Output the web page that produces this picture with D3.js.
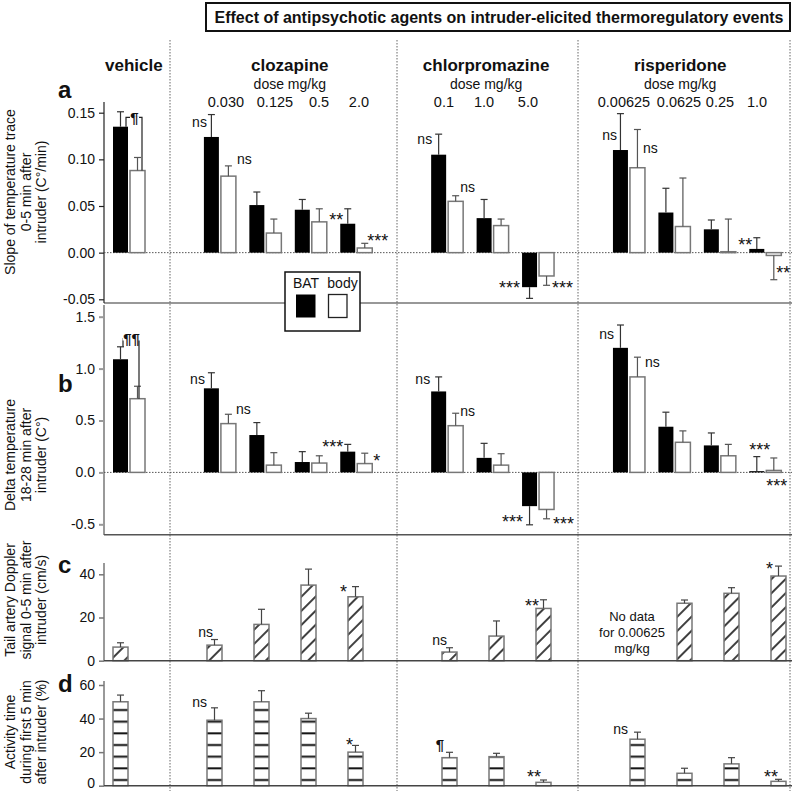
<!DOCTYPE html>
<html><head><meta charset="utf-8">
<script src="https://cdn.jsdelivr.net/npm/d3@7"></script>
<style>
body{margin:0;background:#fff}
svg{display:block}
text{font-family:"Liberation Sans",Arial,sans-serif;fill:#111}
</style>
</head><body>
<svg id="chart" width="798" height="791"></svg>
<script>
// ---------------- DATA ----------------
const title = "Effect of antipsychotic agents on intruder-elicited thermoregulatory events";
const drugs = ["vehicle", "clozapine", "chlorpromazine", "risperidone"];
const clozapineDoses = ["0.030", "0.125", "0.5", "2.0"];
const chlorpromazineDoses = ["0.1", "1.0", "5.0"];
const risperidoneDoses = ["0.00625", "0.0625", "0.25", "1.0"];
const conditions = ["vehicle",
  "clozapine 0.030", "clozapine 0.125", "clozapine 0.5", "clozapine 2.0",
  "chlorpromazine 0.1", "chlorpromazine 1.0", "chlorpromazine 5.0",
  "risperidone 0.00625", "risperidone 0.0625", "risperidone 0.25", "risperidone 1.0"];
// category axis, gaps separate the drugs
const xCategories = ["vehicle", "gap1",
  "clozapine 0.030", "clozapine 0.125", "clozapine 0.5", "clozapine 2.0", "gap2",
  "chlorpromazine 0.1", "chlorpromazine 1.0", "chlorpromazine 5.0", "gap3",
  "risperidone 0.00625", "risperidone 0.0625", "risperidone 0.25", "risperidone 1.0"];

// panel a: slope of temperature trace 0-5 min (C°/min)
const slopeBAT     = [0.135, 0.124, 0.051, 0.046, 0.031, 0.105, 0.037, -0.037, 0.110, 0.043, 0.025, 0.004];
const slopeBATerr  = [0.016, 0.024, 0.014, 0.011, 0.016, 0.022, 0.020, 0.012, 0.039, 0.026, 0.010, 0.012];
const slopeBody    = [0.088, 0.082, 0.021, 0.033, 0.005, 0.055, 0.029, -0.025, 0.091, 0.028, 0.001, -0.003];
const slopeBodyErr = [0.014, 0.011, 0.015, 0.014, 0.005, 0.006, 0.007, 0.010, 0.041, 0.052, 0.035, 0.026];
const slopeBATsig  = ["", "ns", "", "", "**", "ns", "", "***", "ns", "", "", "**"];
const slopeBodySig = ["", "ns", "", "", "***", "ns", "", "***", "ns", "", "", "**"];
const slopeVehicleSig = "¶";

// panel b: delta temperature 18-28 min (C°)
const deltaBAT     = [1.09, 0.81, 0.36, 0.10, 0.20, 0.78, 0.14, -0.325, 1.20, 0.44, 0.26, 0.012];
const deltaBATerr  = [0.12, 0.15, 0.12, 0.10, 0.07, 0.14, 0.14, 0.18, 0.22, 0.14, 0.12, 0.14];
const deltaBody    = [0.71, 0.47, 0.07, 0.09, 0.085, 0.45, 0.07, -0.357, 0.92, 0.29, 0.16, 0.019];
const deltaBodyErr = [0.12, 0.09, 0.12, 0.07, 0.10, 0.12, 0.11, 0.09, 0.19, 0.11, 0.11, 0.12];
const deltaBATsig  = ["", "ns", "", "", "***", "ns", "", "***", "ns", "", "", "***"];
const deltaBodySig = ["", "ns", "", "", "*", "ns", "", "***", "ns", "", "", "***"];
const deltaVehicleSig = "¶¶";

// panel c: tail artery Doppler signal (cm/s); null = no data
const doppler    = [6.3, 7.2, 16.8, 35.0, 29.6, 4.0, 11.4, 24.2, null, 26.6, 31.2, 39.2];
const dopplerErr = [2.0, 2.6, 7.0, 7.4, 4.7, 2.0, 7.0, 4.0, null, 1.5, 2.6, 4.6];
const dopplerSig = ["", "ns", "", "", "*", "ns", "", "**", "", "", "", "*"];
const noDataText = ["No data", "for 0.00625", "mg/kg"];

// panel d: activity time (%)
const activity    = [50, 39, 50, 40, 20, 16.7, 17.3, 2.0, 27.7, 7.4, 13.0, 2.6];
const activityErr = [4.0, 7.4, 6.6, 3.2, 4.0, 3.2, 2.0, 1.4, 4.2, 3.0, 3.7, 1.2];
const activitySig = ["", "ns", "", "", "*", "¶", "", "**", "ns", "", "", "**"];

const ticksA = [-0.05, 0.00, 0.05, 0.10, 0.15];
const ticksB = [-0.5, 0.0, 0.5, 1.0, 1.5];
const ticksC = [0, 20, 40];
const ticksD = [0, 20, 40, 60];

const legendLabels = ["BAT", "body"];
const panelLetters = ["a", "b", "c", "d"];
const yTitles = [
  ["Slope of temperature trace", "0-5 min after", "intruder (C°/min)"],
  ["Delta temperature", "18-28 min after", "intruder (C°)"],
  ["Tail artery Doppler", "signal 0-5 min after", "intruder (cm/s)"],
  ["Activity time", "during first 5 min", "after intruder (%)"]
];

// ---------------- LAYOUT ----------------
const svg = d3.select("#chart");
const AX = 104, RIGHT = 790, BW = 15, BODY_OFF = 17;
const xTop = d3.scalePoint().domain(xCategories).range([113, 113 + 14 * 45.45]);
const xBot = d3.scalePoint().domain(xCategories).range([113, 113 + 14 * 47]);
const yA = d3.scaleLinear().domain([-0.05, 0.15]).range([299.3, 112.7]);
const yB = d3.scaleLinear().domain([-0.5, 1.5]).range([524.3, 316.7]);
const yC = d3.scaleLinear().domain([0, 40]).range([660.7, 574.3]);
const yD = d3.scaleLinear().domain([0, 60]).range([785.7, 685]);

// defs: patterns
const defs = svg.append("defs");
const hatch = defs.append("pattern").attr("id", "hatch").attr("patternUnits", "userSpaceOnUse")
  .attr("width", 10).attr("height", 10).attr("patternTransform", "rotate(45)");
hatch.append("rect").attr("width", 10).attr("height", 10).attr("fill", "#fff");
hatch.append("line").attr("x1", 5).attr("x2", 5).attr("y1", -1).attr("y2", 11)
  .attr("stroke", "#000").attr("stroke-width", 1.5);
const stripe = defs.append("pattern").attr("id", "stripe").attr("patternUnits", "userSpaceOnUse")
  .attr("x", 0).attr("y", 0).attr("width", 20).attr("height", 11.667);
stripe.append("rect").attr("width", 20).attr("height", 11.667).attr("fill", "#fff");
stripe.append("line").attr("x1", 0).attr("x2", 20).attr("y1", 10).attr("y2", 10)
  .attr("stroke", "#111").attr("stroke-width", 2);

// Title
svg.append("rect").attr("x", 206).attr("y", 3).attr("width", 584).attr("height", 28)
  .attr("fill", "#fff").attr("stroke", "#111").attr("stroke-width", 2);
svg.append("text").attr("x", 499).attr("y", 22.5).attr("text-anchor", "middle")
  .attr("font-size", 16).attr("font-weight", "bold").text(title);

// vertical dotted separators
[170, 397, 578, 790].forEach(x => {
  svg.append("line").attr("x1", x).attr("x2", x).attr("y1", 40).attr("y2", 791)
    .attr("stroke", "#666").attr("stroke-width", 1).attr("stroke-dasharray", "1.5,1.5");
});

// drug headers
const headerSlot = [0.46, 3.89, 8.21, 12.48];
const slotX = s => 113 + s * 45.45;
drugs.forEach((d, i) => {
  svg.append("text").attr("x", slotX(headerSlot[i])).attr("y", 71).attr("text-anchor", "middle")
    .attr("font-size", 17).attr("font-weight", "bold").text(d);
  if (i > 0) svg.append("text").attr("x", slotX(headerSlot[i])).attr("y", 89).attr("text-anchor", "middle")
    .attr("font-size", 14).text("dose mg/kg");
});
const doseLabels = [...clozapineDoses, ...chlorpromazineDoses, ...risperidoneDoses];
const doseNudge = [6, 9.6, 8.2, 2.7, -3.2, -8.6, -10.1, -5, 4.6, 0.1, -8.3];
doseLabels.forEach((t, i) => {
  svg.append("text").attr("x", xTop(conditions[i + 1]) + 16 + doseNudge[i]).attr("y", 107)
    .attr("text-anchor", "middle").attr("font-size", 14.5).text(t);
});

// panel letters
[97.5, 392, 573.3, 691.7].forEach((yy, i) => {
  svg.append("text").attr("x", 58).attr("y", yy).attr("font-size", 24).attr("font-weight", "bold")
    .text(panelLetters[i]);
});

// y titles
const yTitleCenter = [192, 455, 600, 732];
const titleBase = [15, 31, 46];
yTitles.forEach((lines, p) => {
  lines.forEach((t, k) => {
    svg.append("text").attr("transform", `translate(${titleBase[k]},${yTitleCenter[p]}) rotate(-90)`)
      .attr("text-anchor", "middle").attr("font-size", 14).text(t);
  });
});

// axes
function drawAxis(scale, ticks, fmt, top, bottom, color, width) {
  const g = svg.append("g").attr("transform", `translate(${AX},0)`)
    .call(d3.axisLeft(scale).tickValues(ticks).tickFormat(fmt).tickSize(5).tickPadding(4).tickSizeOuter(0));
  g.select(".domain").remove();
  g.selectAll(".tick line").attr("stroke", color).attr("stroke-width", width);
  g.selectAll(".tick text").attr("font-size", 14).attr("fill", "#111")
    .attr("font-family", '"Liberation Sans", Arial, sans-serif');
  svg.append("line").attr("x1", AX).attr("x2", AX).attr("y1", top).attr("y2", bottom)
    .attr("stroke", color).attr("stroke-width", width);
  return g;
}
drawAxis(yA, ticksA, d => d.toFixed(2), 102, 303, "#222", 1.2);
drawAxis(yB, ticksB, d => d.toFixed(1), 305, 535, "#999", 2);
drawAxis(yC, ticksC, d => String(d), 563, 661, "#777", 1.5);
const axD = drawAxis(yD, ticksD, d => String(d), 681, 786, "#777", 1.5);
axD.selectAll(".tick text").filter(d => d === 0).attr("dy", "0.12em");

// horizontal lines
const hline = (y, color, w, dash) => svg.append("line").attr("x1", AX).attr("x2", RIGHT + 2)
  .attr("y1", y).attr("y2", y).attr("stroke", color).attr("stroke-width", w).attr("stroke-dasharray", dash || null);
hline(yA(0), "#555", 1, "1.5,1.5");
hline(yB(0), "#555", 1, "1.5,1.5");
hline(303, "#333", 1.2);
hline(534.7, "#555", 1.5);

// helper: error bar
function errBar(g, x, y, v, e, color) {
  const y0 = y(v), y1 = y(v + (v < 0 ? -e : e));
  g.append("line").attr("x1", x).attr("x2", x).attr("y1", y0).attr("y2", y1).attr("stroke", color).attr("stroke-width", 1.2);
  g.append("line").attr("x1", x - 3.5).attr("x2", x + 3.5).attr("y1", y1).attr("y2", y1).attr("stroke", color).attr("stroke-width", 1.2);
}
// helper: annotation centred on glyph
function sig(x, cy, t, anchor) {
  if (!t) return;
  const star = t.includes("*"), para = t.includes("¶");
  const fs = star ? 18 : (para ? 15 : 14);
  const off = star ? 0.55 * fs : (para ? 0.25 * fs : 0.26 * fs);
  svg.append("text").attr("x", x).attr("y", cy + off).attr("text-anchor", anchor)
    .attr("font-size", fs).attr("font-weight", para ? "bold" : null).text(t);
}

function drawPairs(y, bat, batErr, body, bodyErr) {
  const g = svg.append("g");
  g.selectAll("rect.bat").data(conditions).join("rect").attr("class", "bat")
    .attr("x", d => xTop(d)).attr("width", BW)
    .attr("y", (d, i) => y(Math.max(0, bat[i]))).attr("height", (d, i) => Math.abs(y(bat[i]) - y(0)))
    .attr("fill", "#000");
  g.selectAll("rect.body").data(conditions).join("rect").attr("class", "body")
    .attr("x", d => xTop(d) + BODY_OFF).attr("width", BW)
    .attr("y", (d, i) => y(Math.max(0, body[i]))).attr("height", (d, i) => Math.abs(y(body[i]) - y(0)))
    .attr("fill", "#fff").attr("stroke", "#777").attr("stroke-width", 1.5);
  conditions.forEach((c, i) => {
    errBar(g, xTop(c) + BW / 2, y, bat[i], batErr[i], "#333");
    errBar(g, xTop(c) + BODY_OFF + BW / 2, y, body[i], bodyErr[i], "#555");
  });
}
drawPairs(yA, slopeBAT, slopeBATerr, slopeBody, slopeBodyErr);
drawPairs(yB, deltaBAT, deltaBATerr, deltaBody, deltaBodyErr);

function drawSingles(y, vals, errs, fill) {
  const g = svg.append("g");
  const idx = conditions.map((c, i) => i).filter(i => vals[i] !== null);
  g.selectAll("rect").data(idx).join("rect")
    .attr("x", i => xBot(conditions[i])).attr("width", BW)
    .attr("y", i => y(vals[i])).attr("height", i => y(0) - y(vals[i]))
    .attr("fill", fill).attr("stroke", "#777").attr("stroke-width", 1.5);
  idx.forEach(i => errBar(g, xBot(conditions[i]) + BW / 2, y, vals[i], errs[i], "#444"));
}
drawSingles(yC, doppler, dopplerErr, "url(#hatch)");
drawSingles(yD, activity, activityErr, "url(#stripe)");
hline(yC(0), "#444", 1.4);
hline(yD(0), "#444", 1.4);

// vehicle brackets
function bracket(y, topV, leftX, leftBottomV, rightX, rightBottomV, label, labelX, labelCy) {
  const yt = y(topV);
  svg.append("path").attr("d", `M${leftX},${y(leftBottomV)}V${yt}H${rightX}V${y(rightBottomV)}`)
    .attr("fill", "none").attr("stroke", "#222").attr("stroke-width", 1.2);
  svg.append("rect").attr("x", labelX - label.length * 4.5).attr("y", yt - 1).attr("width", label.length * 9).attr("height", 3).attr("fill", "#fff");
  sig(labelX, labelCy, label, "middle");
}
const v0 = xTop(conditions[0]);
bracket(yA, 0.145, v0 + 13, slopeBAT[0], v0 + BODY_OFF + 12, slopeBody[0], slopeVehicleSig, v0 + 21.5, 119);
bracket(yB, 1.29, v0 + 10, deltaBAT[0] + deltaBATerr[0], v0 + BODY_OFF + 9, deltaBody[0], deltaVehicleSig, v0 + 18.5, 340);

// significance annotations: [dx, dy] nudges relative to bar end
const nudgeA_BAT = {1: [3, -13.7], 4: [3, -7.6], 5: [1, -14.3], 7: [-2, -2.7], 8: [4, -13.3], 11: [3, -7.6]};
const nudgeA_Body = {1: [16, -15.7], 4: [10, -11], 5: [12, -13], 7: [13, 8], 8: [13, -18.3], 11: [10, 14]};
const nudgeB_BAT = {1: [1, -8.3], 4: [3, -9], 5: [-1, -11], 7: [1, 12], 8: [1, -12.7], 11: [21, -25.3]};
const nudgeB_Body = {1: [15, -13.3], 4: [16, -6.6], 5: [12, -13.6], 7: [14, 10.7], 8: [15, -13.4], 11: [0, 12]};
const nudgeC = {1: [6, -12], 4: [-1, -8.7], 5: [5, -11], 7: [3, -6.6], 11: [2, -11]};
const nudgeD = {1: [0, -16.7], 4: [5, -10.6], 5: [2, -11], 7: [5, -9], 8: [-2, -9.3], 11: [7, -8]};
function annotate(sigs, vals, y, x, nudge, offset, anchor) {
  sigs.forEach((t, i) => {
    if (!t || !nudge[i]) return;
    sig(x(conditions[i]) + offset + nudge[i][0], y(vals[i]) + nudge[i][1], t, anchor);
  });
}
annotate(slopeBATsig, slopeBAT, yA, xTop, nudgeA_BAT, 0, "end");
annotate(slopeBodySig, slopeBody, yA, xTop, nudgeA_Body, BODY_OFF, "start");
annotate(deltaBATsig, deltaBAT, yB, xTop, nudgeB_BAT, 0, "end");
annotate(deltaBodySig, deltaBody, yB, xTop, nudgeB_Body, BODY_OFF, "start");
annotate(dopplerSig, doppler, yC, xBot, nudgeC, 0, "end");
annotate(activitySig, activity, yD, xBot, nudgeD, 0, "end");

// no data text
noDataText.forEach((t, k) => {
  svg.append("text").attr("x", xBot(conditions[8]) + 2).attr("y", 621.4 + k * 15.8)
    .attr("text-anchor", "middle").attr("font-size", 13).text(t);
});

// legend
const lg = svg.append("g");
lg.append("rect").attr("x", 285).attr("y", 272).attr("width", 75).attr("height", 59)
  .attr("fill", "#fff").attr("stroke", "#111").attr("stroke-width", 1.5);
lg.append("text").attr("x", 306).attr("y", 288).attr("text-anchor", "middle").attr("font-size", 14).text(legendLabels[0]);
lg.append("text").attr("x", 342.5).attr("y", 288).attr("text-anchor", "middle").attr("font-size", 14).text(legendLabels[1]);
lg.append("rect").attr("x", 296).attr("y", 294.5).attr("width", 19.5).attr("height", 23).attr("fill", "#000");
lg.append("rect").attr("x", 328.5).attr("y", 294.5).attr("width", 18.5).attr("height", 23)
  .attr("fill", "#fff").attr("stroke", "#222").attr("stroke-width", 1.3);
</script>
</body></html>
